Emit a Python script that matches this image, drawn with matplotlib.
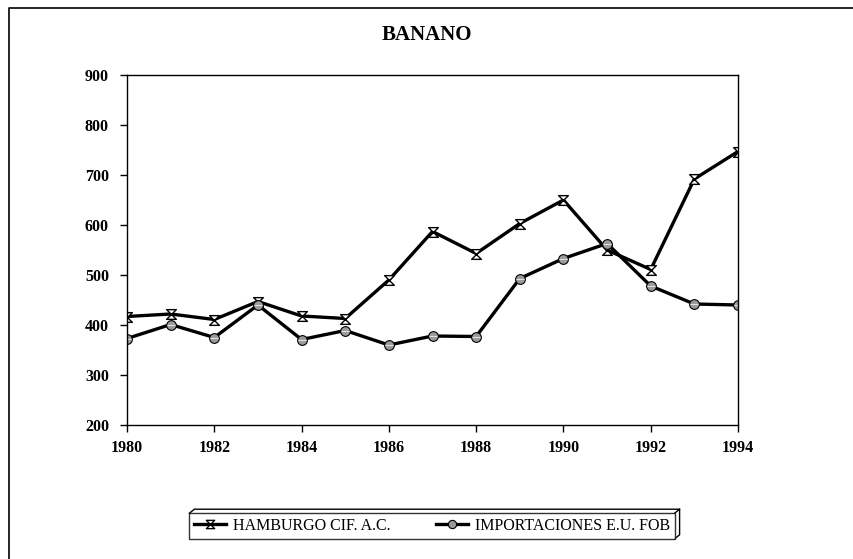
import matplotlib.pyplot as plt
from matplotlib.path import Path
from matplotlib.lines import Line2D

plt.rcParams['font.family'] = ['Liberation Serif', 'DejaVu Serif']

years = [1980, 1981, 1982, 1983, 1984, 1985, 1986, 1987,
         1988, 1989, 1990, 1991, 1992, 1993, 1994]
hamburgo = [417, 422, 411, 447, 418, 413, 490, 587,
            543, 603, 650, 550, 511, 692, 747]
importaciones = [373, 401, 375, 440, 371, 389, 360, 378,
                 377, 493, 533, 563, 478, 442, 440]
xticks = list(range(1980, 1995, 2))
yticks = list(range(200, 901, 100))

# hourglass marker like the old spreadsheet one
hourglass = Path([(-1, 1), (1, 1), (-1, -1), (1, -1), (-1, 1)],
                 [Path.MOVETO, Path.LINETO, Path.LINETO, Path.LINETO, Path.CLOSEPOLY])

fig = plt.figure(figsize=(8.54, 5.59), dpi=100)
ax = fig.add_axes([127 / 854, 1 - 425 / 559, (738 - 127) / 854, 350 / 559])

ax.plot(years, hamburgo, color='black', lw=2.4, marker=hourglass, ms=7,
        mfc='white', mec='black', mew=1.0, label='HAMBURGO CIF. A.C.')
ax.plot(years, importaciones, color='black', lw=2.4, marker='o', ms=7,
        mfc='#9a9a9a', mec='black', mew=0.8, label='IMPORTACIONES E.U. FOB')
ax.plot(years, importaciones, ls='none', marker='_', ms=6, mec='#e0e0e0', mew=0.8)

ax.set_xlim(1980, 1994)
ax.set_ylim(200, 900)
ax.set_xticks(xticks)
ax.set_yticks(yticks)
ax.tick_params(direction='out', length=5, width=1, labelsize=11.5)
for lab in ax.get_xticklabels() + ax.get_yticklabels():
    lab.set_fontweight('bold')
ax.tick_params(axis='x', pad=6)
ax.tick_params(axis='y', pad=8)
for s in ax.spines.values():
    s.set_linewidth(1.0)

fig.text(0.5, 1 - 35 / 559, 'BANANO', ha='center', va='center',
         fontsize=15, fontweight='bold')

leg = fig.legend(loc='center', bbox_to_anchor=(432 / 854, 1 - 526 / 559),
                 ncol=2, frameon=True, fancybox=False, fontsize=11.5,
                 handlelength=2.0, columnspacing=2.9, borderpad=0.3,
                 handletextpad=0.4, markerscale=0.85)
leg.get_frame().set_edgecolor('black')
leg.get_frame().set_linewidth(1.0)
fig.canvas.draw()
bb = leg.get_window_extent().transformed(fig.transFigure.inverted())

# 3D look of the legend box (top and right faces)
x0, x1, yb, yt = bb.x0, bb.x1, bb.y0, bb.y1
dx, dy = 5 / 854, 4 / 559
for xs, ys in [([x0, x0 + dx, x1 + dx, x1], [yt, yt + dy, yt + dy, yt]),
               ([x1 + dx, x1 + dx, x1], [yt + dy, yb + dy, yb])]:
    fig.add_artist(Line2D(xs, ys, color='black', lw=1.0, transform=fig.transFigure))

# outer page frame (top and left edges visible)
fig.add_artist(Line2D([9 / 854, 9 / 854, 1.0], [0.0, 1 - 8 / 559, 1 - 8 / 559],
                      color='black', lw=1.2, transform=fig.transFigure))

fig.savefig('out.png', dpi=100)
